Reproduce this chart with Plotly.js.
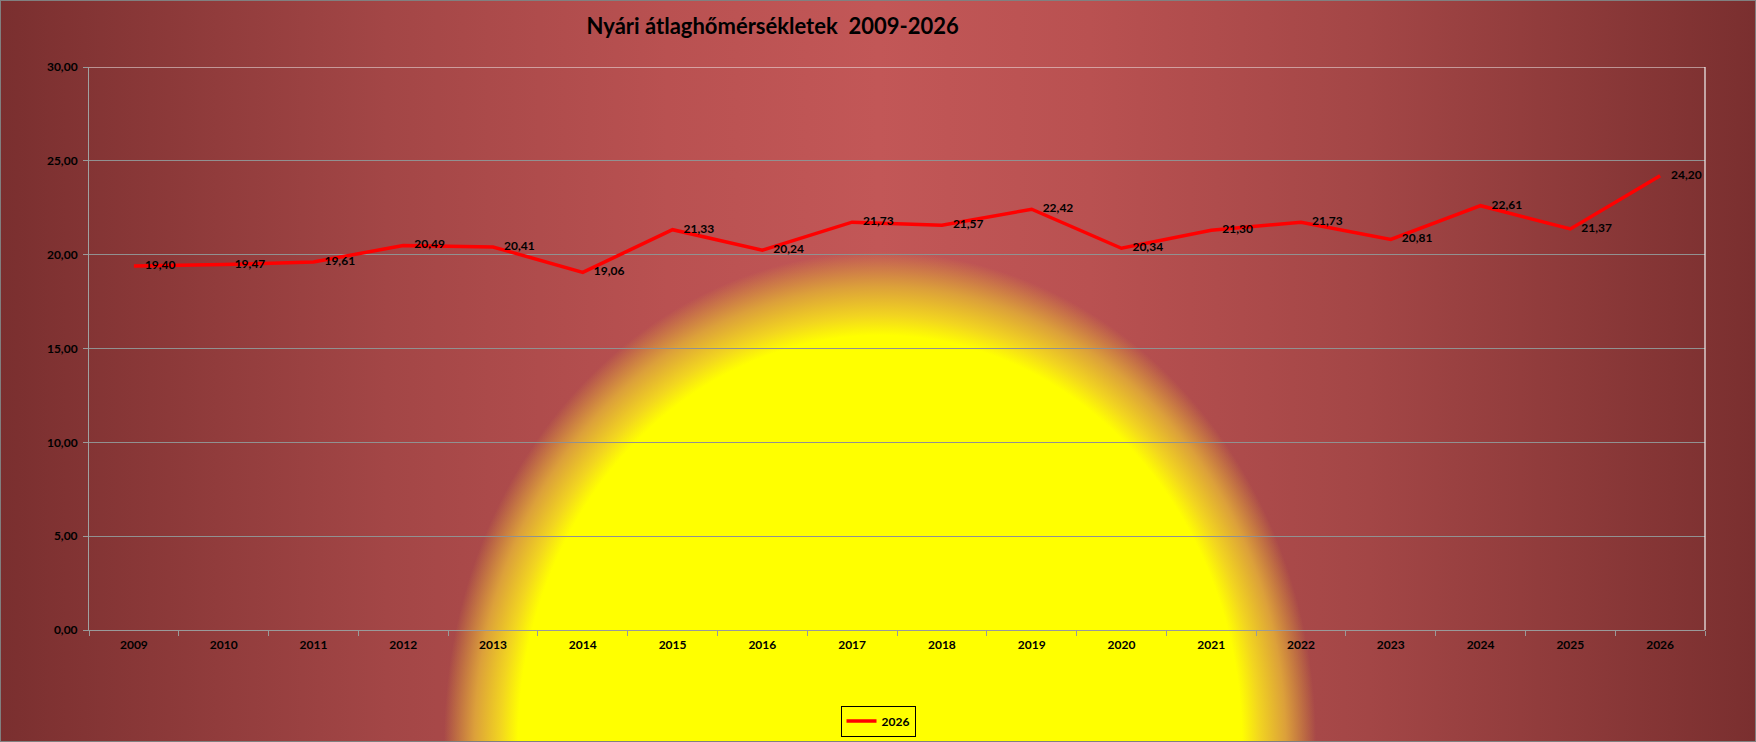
<!DOCTYPE html>
<html>
<head>
<meta charset="utf-8">
<script src="https://cdn.plot.ly/plotly-3.0.1.min.js"></script>
<style>
  html, body { margin: 0; padding: 0; }
  #chart {
    width: 1756px; height: 742px;
    box-shadow: inset 0 0 0 1px #808080;
    background:
      radial-gradient(436px 490px at 880px 742px, #ffff00 0%, #ffff00 83%, #f2d520 87%, #dca03a 93%, rgba(196,90,88,0) 100%),
      linear-gradient(to right, #7a2f2f 0%, #a34646 22%, #b95151 38%, #c25757 50%, #b95151 62%, #a34646 78%, #7a2f2f 100%);
  }
</style>
</head>
<body>
<div id="chart"></div>
<script>
const years = ["2009","2010","2011","2012","2013","2014","2015","2016","2017","2018","2019","2020","2021","2022","2023","2024","2025","2026"];
const temps = [19.40, 19.47, 19.61, 20.49, 20.41, 19.06, 21.33, 20.24, 21.73, 21.57, 22.42, 20.34, 21.30, 21.73, 20.81, 22.61, 21.37, 24.20];
const seriesName = "2026";
const chartTitle = "Nyári átlaghőmérsékletek  2009-2026";
const yTickVals = [0, 5, 10, 15, 20, 25, 30];

const FONT = "Lato, 'Open Sans', sans-serif";
const labels = temps.map(v => v.toFixed(2).replace('.', ','));

const trace = {
  type: 'scatter',
  mode: 'lines+markers+text',
  name: seriesName,
  x: years,
  y: temps,
  text: labels,
  textposition: 'middle right',
  textfont: { family: FONT, size: 12, color: '#000000', weight: 'bold' },
  line: { color: '#ff0000', width: 3.5 },
  marker: { size: 16, color: 'rgba(0,0,0,0)' },
  cliponaxis: false,
  hoverinfo: 'x+y'
};

const layout = {
  width: 1756,
  height: 742,
  paper_bgcolor: 'rgba(0,0,0,0)',
  plot_bgcolor: 'rgba(0,0,0,0)',
  separators: ',.',
  margin: { l: 89, r: 51, t: 67, b: 112, autoexpand: false },
  font: { family: FONT, size: 12, color: '#000000' },
  title: {
    text: chartTitle,
    font: { family: FONT, size: 22, color: '#000000', weight: 'bold' },
    x: 0.44, xref: 'container', xanchor: 'center',
    y: 1 - 26 / 742, yref: 'container', yanchor: 'middle'
  },
  xaxis: {
    type: 'category',
    categoryorder: 'array',
    categoryarray: years,
    range: [-0.5, years.length - 0.5],
    autorange: false,
    tickson: 'boundaries',
    ticks: 'outside',
    ticklen: 5,
    tickcolor: '#9a9a9a',
    showline: true,
    linecolor: '#9a9a9a',
    linewidth: 1,
    showgrid: false,
    tickfont: { family: FONT, size: 12, color: '#000000', weight: 'bold' },
    ticklabelstandoff: 4
  },
  yaxis: {
    range: [0, 30],
    autorange: false,
    tickvals: yTickVals,
    tickformat: '.2f',
    ticks: 'outside',
    ticklen: 5,
    tickcolor: '#9a9a9a',
    showline: true,
    linecolor: '#a0a0a0',
    linewidth: 1,
    gridcolor: '#919191',
    gridwidth: 1,
    zeroline: false,
    tickfont: { family: FONT, size: 12, color: '#000000', weight: 'bold' },
    ticklabelstandoff: 3
  },
  showlegend: true,
  legend: {
    orientation: 'h',
    xref: 'container',
    x: 0.5, xanchor: 'center',
    yref: 'container',
    y: 1 - 721 / 742, yanchor: 'middle',
    bgcolor: 'rgba(0,0,0,0)',
    bordercolor: '#000000',
    borderwidth: 1,
    itemwidth: 30,
    font: { family: FONT, size: 12, color: '#000000', weight: 'bold' }
  },
  shapes: [
    { type: 'line', xref: 'paper', yref: 'y', x0: 0, x1: 1, y0: 30, y1: 30, line: { color: '#f2f2f2', width: 1.2 } },
    { type: 'line', xref: 'paper', yref: 'y', x0: 1, x1: 1, y0: 0, y1: 30, line: { color: '#f2f2f2', width: 1.2 } }
  ]
};

Plotly.newPlot('chart', [trace], layout, { displayModeBar: false, staticPlot: true });
</script>
</body>
</html>
